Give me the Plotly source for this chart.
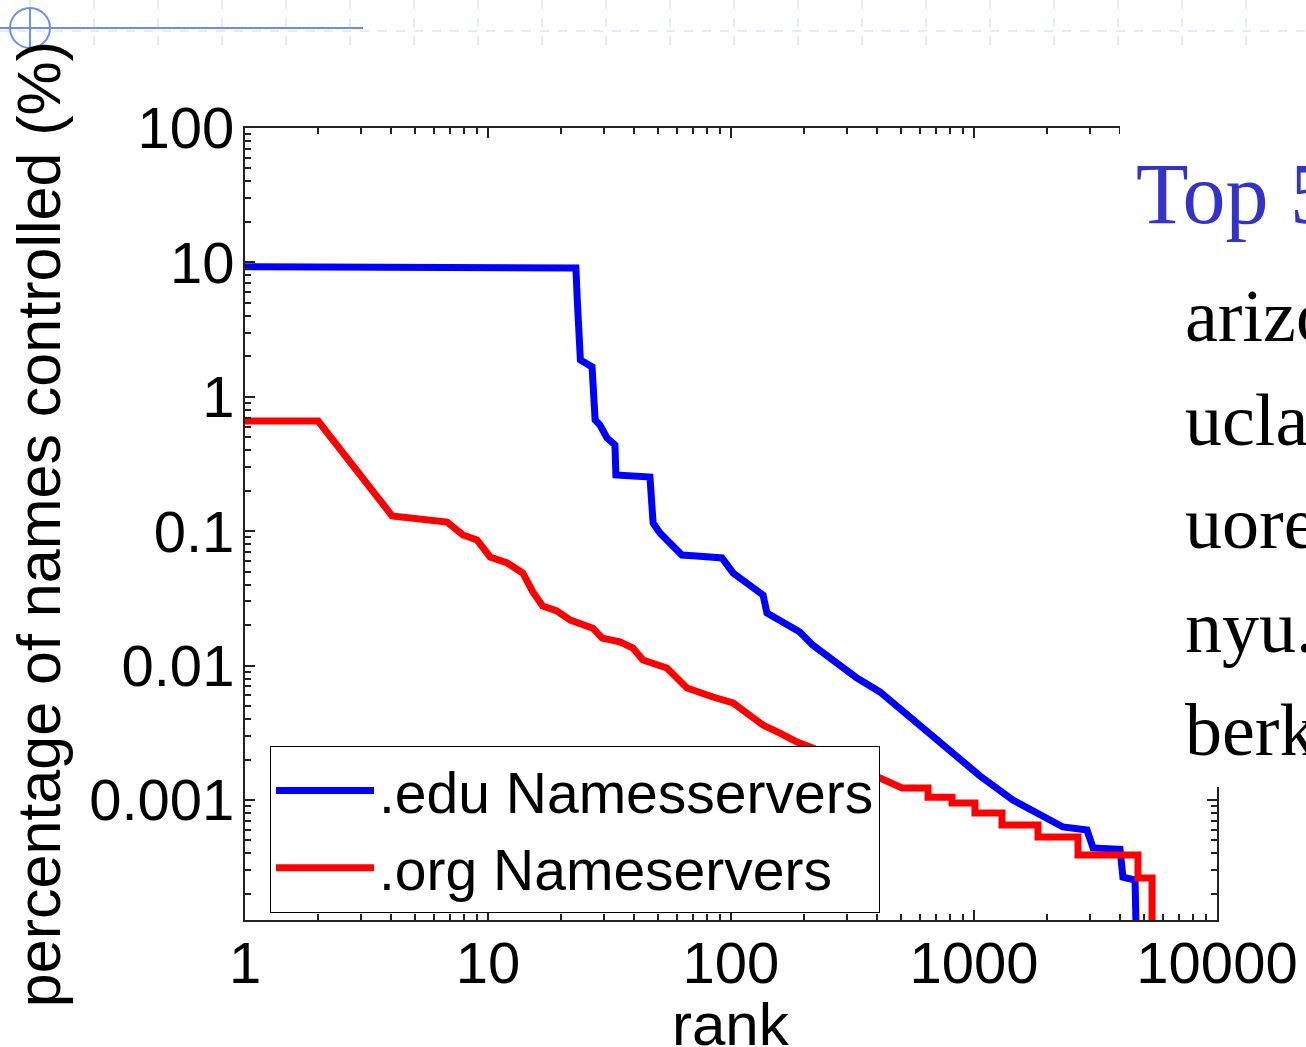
import math
import plotly.graph_objects as go

# ---------------- data ----------------
edu_rank = [1, 5, 12, 23, 23.3, 24, 26.8, 27.6, 28.9, 30.9, 33.3, 33.6, 46.4, 47.8,
            51.0, 57.7, 62.8, 74.5, 91.8, 102, 116, 135.5, 140.6, 159, 192, 217, 263,
            330, 410, 561, 774, 1059, 1446, 1997, 2323, 2917, 3000, 3090, 3990, 4100,
            4600, 4650]
edu_pct = [9.3, 9.25, 9.2, 9.1, 5.25, 1.88, 1.67, 0.672, 0.617, 0.493, 0.438, 0.262,
           0.253, 0.115, 0.097, 0.0789, 0.0665, 0.065, 0.0632, 0.0489, 0.0412, 0.0335,
           0.0246, 0.0218, 0.0178, 0.0142, 0.0110, 0.00809, 0.00637, 0.00394, 0.00236,
           0.00151, 0.00100, 0.00073, 0.00063, 0.000598, 0.000504, 0.00044, 0.00043,
           0.000267, 0.000254, 0.0001]

org_rank = [1, 2, 4.03, 6.78, 7.89, 9.01, 10.2, 12.0, 13.9, 15.3, 16.8, 19.2, 21.8,
            27.0, 29.5, 34.9, 39.5, 43.4, 54.5, 61.7, 65.9, 84.3, 102, 116, 135.5, 159,
            187, 217, 506, 647, 647, 812, 812, 1009, 1009, 1304, 1304, 1834, 1834,
            2679, 2679, 4730, 4730, 5405, 5405]
org_pct = [0.66, 0.66, 0.130, 0.117, 0.0937, 0.0861, 0.0643, 0.0580, 0.0489, 0.0353,
           0.0277, 0.0255, 0.0218, 0.0190, 0.0160, 0.0150, 0.0135, 0.0110, 0.0096,
           0.00782, 0.00681, 0.00584, 0.00527, 0.00444, 0.00361, 0.00315, 0.0027,
           0.00244, 0.00123, 0.00123, 0.00105, 0.00105, 0.00095, 0.00095, 0.0008,
           0.0008, 0.000652, 0.000652, 0.00053, 0.00053, 0.00039, 0.00039, 0.000263,
           0.000263, 0.0001]

series_names = [".edu Namesservers", ".org Nameservers"]
x_ticks = [1, 10, 100, 1000, 10000]
x_ticktext = ["1", "10", "100", "1000", "10000"]
y_ticks = [100, 10, 1, 0.1, 0.01, 0.001]
y_ticktext = ["100", "10", "1", "0.1", "0.01", "0.001"]
x_title = "rank"
y_title = "percentage of names controlled (%)"
side_title = "Top 5"
side_items = ["arizona.edu", "ucla.edu", "uoregon.edu", "nyu.edu", "berkeley.edu"]

# ---------------- layout geometry ----------------
W, H = 1306, 1047
L, R, T, B = 245, 1217, 128, 920


def px(x):
    return (x - L) / (R - L)


def py(y):
    return (B - y) / (B - T)


SANS = "Liberation Sans, Arial, sans-serif"
SERIF = "Liberation Serif, Times New Roman, serif"

fig = go.Figure()
fig.add_trace(go.Scatter(x=edu_rank, y=edu_pct, mode="lines", name=series_names[0],
                         line=dict(color="#0000ff", width=7), legendgroup="a"))
fig.add_trace(go.Scatter(x=org_rank, y=org_pct, mode="lines", name=series_names[1],
                         line=dict(color="#ff0000", width=7), legendgroup="b"))

minor_x = [m * 10 ** e for e in range(0, 4) for m in range(2, 10)]
minor_y = [m * 10 ** e for e in range(-4, 2) for m in range(2, 10)]

axis_common = dict(
    showline=True, linecolor="#222222", linewidth=2, mirror="allticks",
    ticks="inside", ticklen=10, tickwidth=1.5, tickcolor="#222222",
    showgrid=False, zeroline=False, automargin=False,
    tickfont=dict(family=SANS, size=58, color="black"),
)

fig.update_xaxes(type="log", range=[0, 4], tickmode="array", tickvals=x_ticks,
                 ticktext=x_ticktext, ticklabelstandoff=-9,
                 minor=dict(ticks="inside", ticklen=6, tickcolor="#222222",
                            tickmode="array", tickvals=minor_x, showgrid=False),
                 **axis_common)
fig.update_yaxes(type="log", range=[math.log10(0.000128), 2], tickmode="array",
                 tickvals=y_ticks, ticktext=y_ticktext, ticklabelstandoff=-3,
                 minor=dict(ticks="inside", ticklen=6, tickcolor="#222222",
                            tickmode="array", tickvals=minor_y, showgrid=False),
                 title=dict(text=y_title,
                            font=dict(family=SANS, size=61, color="black"), standoff=9),
                 **axis_common)

shapes = []
# white text box of the slide covering the top-right part of the frame
shapes.append(dict(type="rect", xref="paper", yref="paper", layer="above",
                   x0=px(1120), x1=px(1310), y0=py(787), y1=py(90),
                   fillcolor="white", line=dict(width=0)))
# slide template decorations
grid_col = "#cdd5f8"
for gx in range(30, W, 64):
    shapes.append(dict(type="line", xref="paper", yref="paper", layer="above",
                       x0=px(gx), x1=px(gx), y0=py(0), y1=py(50),
                       line=dict(color=grid_col, width=1, dash="dash")))
shapes.append(dict(type="line", xref="paper", yref="paper", layer="above",
                   x0=px(0), x1=px(W), y0=py(31), y1=py(31),
                   line=dict(color=grid_col, width=1, dash="dash")))
deco = "#6b8ef0"
shapes.append(dict(type="line", xref="paper", yref="paper", layer="above",
                   x0=px(0), x1=px(363), y0=py(28), y1=py(28),
                   line=dict(color=deco, width=2)))
shapes.append(dict(type="circle", xref="paper", yref="paper", layer="above",
                   x0=px(10), x1=px(50), y0=py(48), y1=py(8),
                   line=dict(color=deco, width=2)))
shapes.append(dict(type="line", xref="paper", yref="paper", layer="above",
                   x0=px(30), x1=px(30), y0=py(8), y1=py(48),
                   line=dict(color=deco, width=2)))

annotations = []
# x-axis title (runs off the bottom edge as in the slide)
annotations.append(dict(xref="paper", yref="paper", x=px(731), y=py(989),
                        xanchor="center", yanchor="top", showarrow=False,
                        text=x_title,
                        font=dict(family=SANS, size=60, color="black")))
annotations.append(dict(xref="paper", yref="paper", x=px(1134), y=py(194),
                        xanchor="left", yanchor="middle", showarrow=False,
                        text=side_title,
                        font=dict(family=SERIF, size=86, color="#3333cc")))
for i, item in enumerate(side_items):
    base = 340 + i * 103.5
    annotations.append(dict(xref="paper", yref="paper", x=px(1183), y=py(base - 24),
                            xanchor="left", yanchor="middle", showarrow=False,
                            text=item,
                            font=dict(family=SERIF, size=74, color="black")))

fig.update_layout(
    width=W, height=H,
    margin=dict(l=L, r=W - R, t=T, b=H - B),
    paper_bgcolor="white", plot_bgcolor="white",
    showlegend=True,
    legend=dict(x=px(270), y=py(746), xanchor="left", yanchor="top",
                bgcolor="white", bordercolor="black", borderwidth=1,
                font=dict(family=SANS, size=57, color="black"),
                itemwidth=98, tracegroupgap=0, traceorder="grouped"),
    shapes=shapes, annotations=annotations,
)

fig.write_html("out.html", config={"displayModeBar": False},
               post_script="document.body.style.margin='0';"
                           "document.body.style.overflow='hidden';")
